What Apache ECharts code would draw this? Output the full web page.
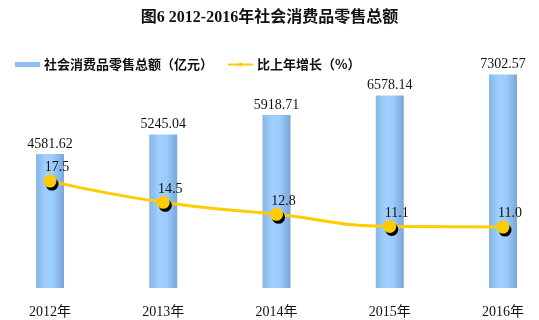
<!DOCTYPE html>
<html><head><meta charset="utf-8">
<script src="https://cdn.jsdelivr.net/npm/echarts@6/dist/echarts.min.js"></script>
<style>html,body{margin:0;padding:0;background:#fff}#c{width:539px;height:320px}</style>
</head><body><div id="c"></div>
<script>
const categories = ['2012年','2013年','2014年','2015年','2016年'];
const salesValues = [4581.62, 5245.04, 5918.71, 6578.14, 7302.57];
const growthValues = [17.5, 14.5, 12.8, 11.1, 11.0];
const titleText = '图6 2012-2016年社会消费品零售总额';
const seriesNames = ['社会消费品零售总额（亿元）', '比上年增长（%）'];

const numFont = '"Liberation Serif", "Noto Sans CJK SC", serif';
const chart = echarts.init(document.getElementById('c'));
chart.setOption({
  animation: false,
  backgroundColor: '#fff',
  title: {
    text: titleText, left: 'center', top: 5,
    textStyle: { fontSize: 16, fontWeight: 'bold', color: '#111', fontFamily: '"Liberation Serif", "Noto Sans CJK SC", serif' }
  },
  legend: {
    left: 10, top: 53, itemGap: 14,
    textStyle: { fontSize: 13, fontWeight: 'bold', color: '#111', fontFamily: '"Noto Sans CJK SC", sans-serif', padding: [0, 0, 0, -1] },
    data: [
      { name: seriesNames[0], icon: 'rect', itemStyle: { color: '#8fbfef' } },
      { name: seriesNames[1] }
    ],
    itemWidth: 25, itemHeight: 5
  },
  grid: { left: 50, right: 36, top: 54, bottom: 32 },
  xAxis: {
    type: 'category', data: categories, boundaryGap: false,
    axisLine: { show: false }, axisTick: { show: false },
    axisLabel: { margin: 17, fontSize: 14, color: '#111', fontFamily: numFont }
  },
  yAxis: [
    { type: 'value', min: 0, max: 8000, show: false, splitLine: { show: false } },
    { type: 'value', min: 2.4, max: 35.45, show: false, splitLine: { show: false } }
  ],
  series: [
    {
      name: seriesNames[0], type: 'bar', data: salesValues, barWidth: 28, clip: false,
      itemStyle: {
        color: new echarts.graphic.LinearGradient(0, 0, 1, 0, [
          { offset: 0, color: '#86b5e6' },
          { offset: 0.35, color: '#9fd0ff' },
          { offset: 0.6, color: '#9ccdfd' },
          { offset: 1, color: '#7aa6d6' }
        ])
      },
      label: { show: true, position: 'top', distance: 3, fontSize: 14, color: '#111', fontFamily: numFont,
        formatter: p => p.value.toFixed(2) }
    },
    {
      name: seriesNames[1], type: 'line', yAxisIndex: 1, data: growthValues, smooth: true,
      symbol: 'circle', symbolSize: 13,
      lineStyle: { color: '#ffcc00', width: 3 },
      itemStyle: { color: '#ffcc00', shadowColor: '#000', shadowBlur: 0, shadowOffsetX: 2, shadowOffsetY: 3 },
      label: { show: true, position: 'top', distance: 0, offset: [7, 0], fontSize: 14, color: '#111', fontFamily: numFont,
        formatter: p => p.value.toFixed(1) }
    }
  ]
});
</script></body></html>
